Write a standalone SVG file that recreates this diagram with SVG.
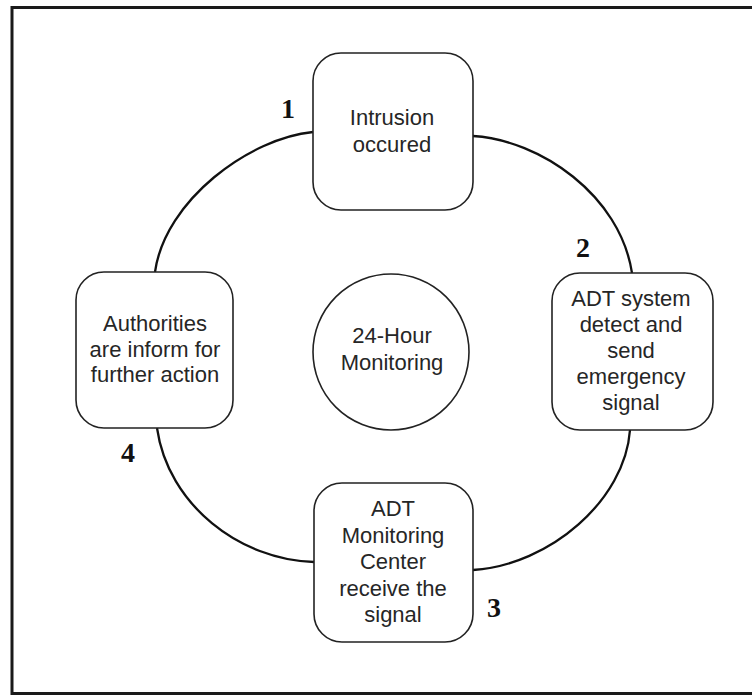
<svg xmlns="http://www.w3.org/2000/svg" width="752" height="695" viewBox="0 0 752 695">
<style>
.box{fill:#fff;stroke:#222;stroke-width:1.6}
.t{font-family:"Liberation Sans",Arial,sans-serif;font-size:22px;fill:#262626;text-anchor:middle}
.n{font-family:"Liberation Serif","Times New Roman",serif;font-size:28px;font-weight:bold;fill:#111;text-anchor:middle}
.c{fill:none;stroke:#111;stroke-width:2.3}
</style>
<rect x="0" y="0" width="752" height="695" fill="#fff"/>
<rect x="12" y="7.5" width="760" height="686" fill="none" stroke="#1a1a1a" stroke-width="3"/>
<g id="connectors">
<path class="c" d="M313,132 C250,138 165,200 155,272"/>
<path class="c" d="M473,136 C540,140 620,195 632,273"/>
<path class="c" d="M630,430 C625,500 550,565 473,570"/>
<path class="c" d="M314,562 C240,560 168,505 157,428"/>
</g>
<g id="node1">
<rect class="box" x="313" y="53" width="160" height="157" rx="28"/>
<text class="t" x="392" y="125">Intrusion</text>
<text class="t" x="392" y="152">occured</text>
<text class="n" x="288" y="118">1</text>
</g>
<g id="node2">
<rect class="box" x="552" y="273" width="161" height="157" rx="28"/>
<text class="t" x="631" y="306">ADT system</text>
<text class="t" x="631" y="332">detect and</text>
<text class="t" x="631" y="358">send</text>
<text class="t" x="631" y="384">emergency</text>
<text class="t" x="631" y="410">signal</text>
<text class="n" x="583" y="257">2</text>
</g>
<g id="node3">
<rect class="box" x="314" y="483" width="159" height="159" rx="28"/>
<text class="t" x="393" y="516">ADT</text>
<text class="t" x="393" y="542.5">Monitoring</text>
<text class="t" x="393" y="569">Center</text>
<text class="t" x="393" y="595.5">receive the</text>
<text class="t" x="393" y="622">signal</text>
<text class="n" x="494" y="617">3</text>
</g>
<g id="node4">
<rect class="box" x="76" y="272" width="157" height="156" rx="28"/>
<text class="t" x="155" y="331">Authorities</text>
<text class="t" x="155" y="356.5">are inform for</text>
<text class="t" x="155" y="382">further action</text>
<text class="n" x="128" y="462">4</text>
</g>
<g id="center">
<circle class="box" cx="391" cy="352" r="78"/>
<text class="t" x="392" y="343">24-Hour</text>
<text class="t" x="392" y="370">Monitoring</text>
</g>
</svg>
